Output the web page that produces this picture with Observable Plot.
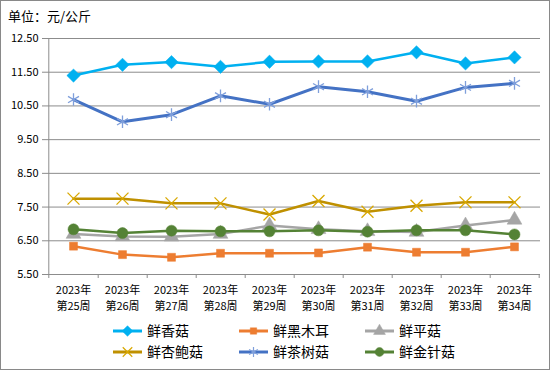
<!DOCTYPE html>
<html><head><meta charset="utf-8">
<script src="https://cdn.jsdelivr.net/npm/d3@7"></script>
<script src="https://cdn.jsdelivr.net/npm/@observablehq/plot@0.6"></script>
<style>
body{margin:0;background:#fff;}
#wrap{position:relative;width:550px;height:370px;background:#fff;font-family:"Noto Sans CJK SC",sans-serif;}
#border{position:absolute;left:0;top:0;width:548px;height:368px;border:1px solid #898989;pointer-events:none;}
#title{position:absolute;left:8px;top:8px;font-size:13px;color:#000;line-height:16px;}
#chart{position:absolute;left:0;top:28px;}
#legend{position:absolute;left:0;top:316px;}
</style></head>
<body><div id="wrap"><div id="title">单位：元/公斤</div><div id="chart"></div><div id="legend"></div><div id="border"></div></div>
<script>
const weeks = ["第25周","第26周","第27周","第28周","第29周","第30周","第31周","第32周","第33周","第34周"];
const yearLabel = "2023年";
const yTicks = [5.5,6.5,7.5,8.5,9.5,10.5,11.5,12.5];
const seriesNames = ["鲜香菇","鲜黑木耳","鲜平菇","鲜杏鲍菇","鲜茶树菇","鲜金针菇"];
const xianggu = [11.40,11.72,11.80,11.66,11.81,11.82,11.82,12.09,11.76,11.94];
const heimuer = [6.34,6.09,6.01,6.13,6.13,6.14,6.31,6.16,6.16,6.32];
const pinggu  = [6.70,6.63,6.62,6.70,6.95,6.84,6.78,6.76,6.95,7.12];
const xingbao = [7.75,7.75,7.61,7.61,7.28,7.68,7.36,7.54,7.64,7.64];
const chashu  = [10.69,10.03,10.24,10.80,10.55,11.07,10.92,10.64,11.05,11.17];
const jinzhen = [6.84,6.73,6.80,6.78,6.78,6.81,6.77,6.81,6.81,6.69];

const values = [xianggu,heimuer,pinggu,xingbao,chashu,jinzhen];
const styles = [
  {line:"#00B0F0", mark:"#00B0F0", symbol:"diamond2", filled:true, r:6, sw:2.5},
  {line:"#ED7D31", mark:"#ED7D31", symbol:"square", filled:true, r:4.5, sw:2.5},
  {line:"#A5A5A5", mark:"#A5A5A5", symbol:"triangle", filled:true, r:5.5, sw:2.5},
  {line:"#BF9000", mark:"#D9A800", symbol:"times", filled:false, r:5.5, sw:2.5},
  {line:"#4472C4", mark:"#7F9FDB", symbol:"asterisk", filled:false, r:6, sw:3},
  {line:"#548235", mark:"#548235", symbol:"circle", filled:true, r:5.5, sw:2.5}
];
const data = [];
seriesNames.forEach((s,k)=>weeks.forEach((w,i)=>data.push({series:s, week:w, value:values[k][i]})));

const W=550, H=290, mL=46, mR=10, mT=10, mB=44;
const half = (W-mL-mR)/weeks.length/2;
const tickBelow = 5.5 - 4/((H-mT-mB)/7);

const marks = [
  Plot.ruleY(yTicks, {y:d=>d, stroke:"#8c8c8c", strokeWidth:1}),
  Plot.axisY({ticks:yTicks, tickFormat:d=>d.toFixed(2), tickSize:4, tickPadding:4, stroke:"#8c8c8c", fontSize:11}),
  Plot.ruleX([weeks[0]], {x:d=>d, dx:-half, y1:tickBelow, y2:12.5, stroke:"#8c8c8c"}),
  Plot.ruleX(weeks, {x:d=>d, dx:half, y1:tickBelow, y2:5.5, stroke:"#8c8c8c"}),
  Plot.axisX({tickSize:0, tickPadding:9, tickFormat:d=>yearLabel+"\n"+d, lineHeight:1.4, fontSize:11})
];
seriesNames.forEach((s,k)=>{
  const st = styles[k];
  const d = data.filter(e=>e.series===s);
  marks.push(Plot.line(d, {x:"week", y:"value", stroke:st.line, strokeWidth:st.sw}));
  marks.push(Plot.dot(d, {x:"week", y:"value", symbol:()=>st.symbol, r:st.r,
    fill: st.filled ? st.mark : "none", stroke: st.mark, strokeWidth: st.filled?0.5:1.3}));
});

const chart = Plot.plot({
  width:W, height:H, marginLeft:mL, marginRight:mR, marginTop:mT, marginBottom:mB,
  style:{fontFamily:'"Noto Sans CJK SC",sans-serif', fontSize:"11px", color:"#000", background:"transparent"},
  x:{type:"point", domain:weeks, padding:0.5, axis:null, label:null},
  y:{domain:[5.5,12.5], axis:null, label:null},
  symbol:{type:"identity"},
  marks
});
document.getElementById("chart").appendChild(chart);

// legend
const lg = d3.select("#legend").append("svg").attr("width",W).attr("height",52)
  .style("font-family",'"Noto Sans CJK SC",sans-serif');
const cols=[113,239,365], rows=[15,36];
const symMap={diamond2:d3.symbolDiamond2, square:d3.symbolSquare, triangle:d3.symbolTriangle, times:d3.symbolTimes, asterisk:d3.symbolAsterisk, circle:d3.symbolCircle};
seriesNames.forEach((s,k)=>{
  const st=styles[k], x=cols[k%3], y=rows[Math.floor(k/3)];
  const g=lg.append("g");
  const rr = st.r*0.8;
  g.append("line").attr("x1",x).attr("x2",x+29).attr("y1",y).attr("y2",y).attr("stroke",st.line).attr("stroke-width",3);
  g.append("path").attr("transform",`translate(${x+14.5},${y})`)
    .attr("d",d3.symbol(symMap[st.symbol], Math.PI*rr*rr)())
    .attr("fill",st.filled?st.mark:"none").attr("stroke",st.mark).attr("stroke-width",st.filled?0.5:1.2);
  g.append("text").attr("x",x+34).attr("y",y).attr("dy","0.36em").attr("font-size",14).attr("fill","#000").text(s);
});
</script></body></html>
